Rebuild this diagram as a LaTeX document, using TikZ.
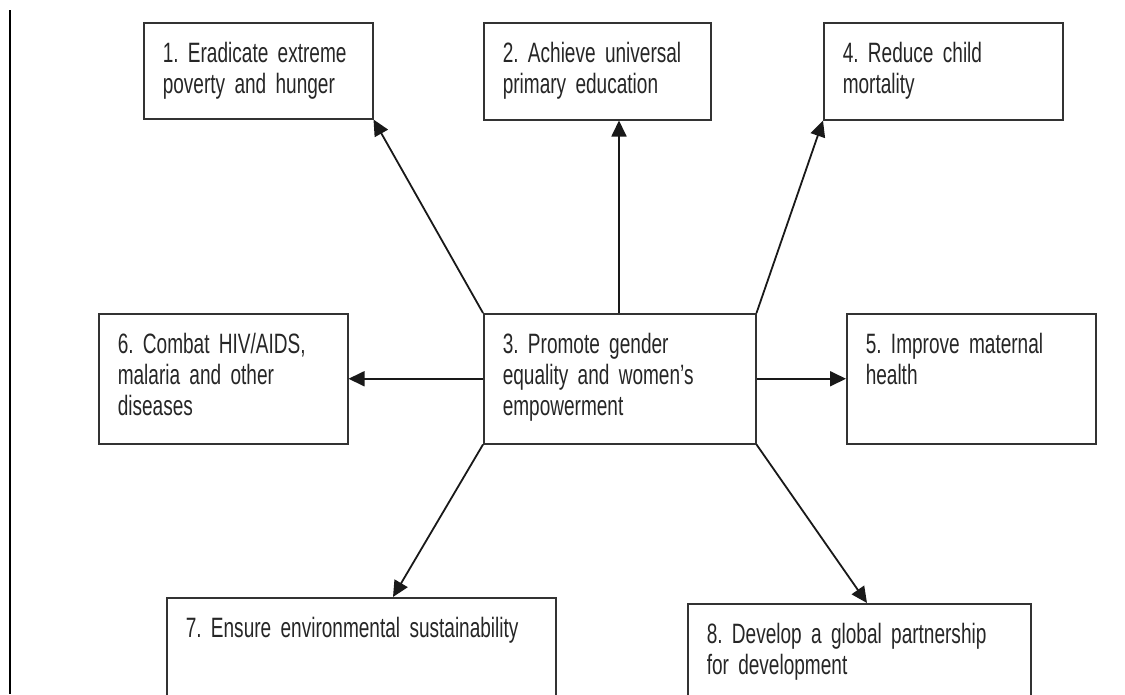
\documentclass[tikz,border=0pt]{standalone}
\usepackage{fontspec}
\setmainfont[FakeStretch=0.68,WordSpace=0.7]{Liberation Sans}
\usetikzlibrary{arrows.meta}
\frenchspacing

\tikzset{
  goal/.style 2 args={draw=black!80, line width=1.5pt, rectangle, anchor=north west,
    align=left, inner xsep=19pt, inner ysep=0pt, text height=40pt,
    text width=#1, text depth=#2, text=black!85,
    font=\fontsize{28pt}{31pt}\selectfont},
  link/.style={-{Triangle[length=16pt,width=15pt]}, line width=1.8pt, draw=black!90},
}

\begin{document}
\begin{tikzpicture}[x=1pt,y=-1pt]

\useasboundingbox (0,0) rectangle (1125,694);
\clip (0,0) rectangle (1125,694);

\draw[line width=2.5pt] (10,10) -- (10,694); % page margin rule

% top row
\node[goal={191pt}{56pt}] (goal1) at (143,22) {1. Eradicate extreme\\poverty and hunger};
\node[goal={189pt}{57pt}] (goal2) at (483,22) {2. Achieve universal\\primary education};
\node[goal={201pt}{57pt}] (goal4) at (823,22) {4. Reduce child\\mortality};

% middle row
\node[goal={211pt}{90pt}] (goal6) at (98,313) {6. Combat HIV/AIDS,\\malaria and other\\diseases};
\node[goal={234pt}{90pt}] (goal3) at (483,313) {3. Promote gender\\equality and women’s\\empowerment};
\node[goal={211pt}{90pt}] (goal5) at (846,313) {5. Improve maternal\\health};

% bottom row (runs off the page)
\node[goal={351pt}{90pt}] (goal7) at (166,597) {7. Ensure environmental sustainability};
\node[goal={305pt}{90pt}] (goal8) at (687,603) {8. Develop a global partnership\\for development};

% everything goes out from goal 3
\foreach \from/\to in {goal3.north west/goal1.south east,
                       goal3.north east/goal4.south west,
                       goal3.west/goal6.east,
                       goal3.east/goal5.west}{
    \draw[link] (\from) -- (\to);
}
\draw[link] ([xshift=136pt]goal3.north west) -- ([xshift=136pt]goal2.south west);
\draw[link] (goal3.south west) -- ([xshift=227pt]goal7.north west);
\draw[link] (goal3.south east) -- ([xshift=180pt]goal8.north west);

\end{tikzpicture}
\end{document}
